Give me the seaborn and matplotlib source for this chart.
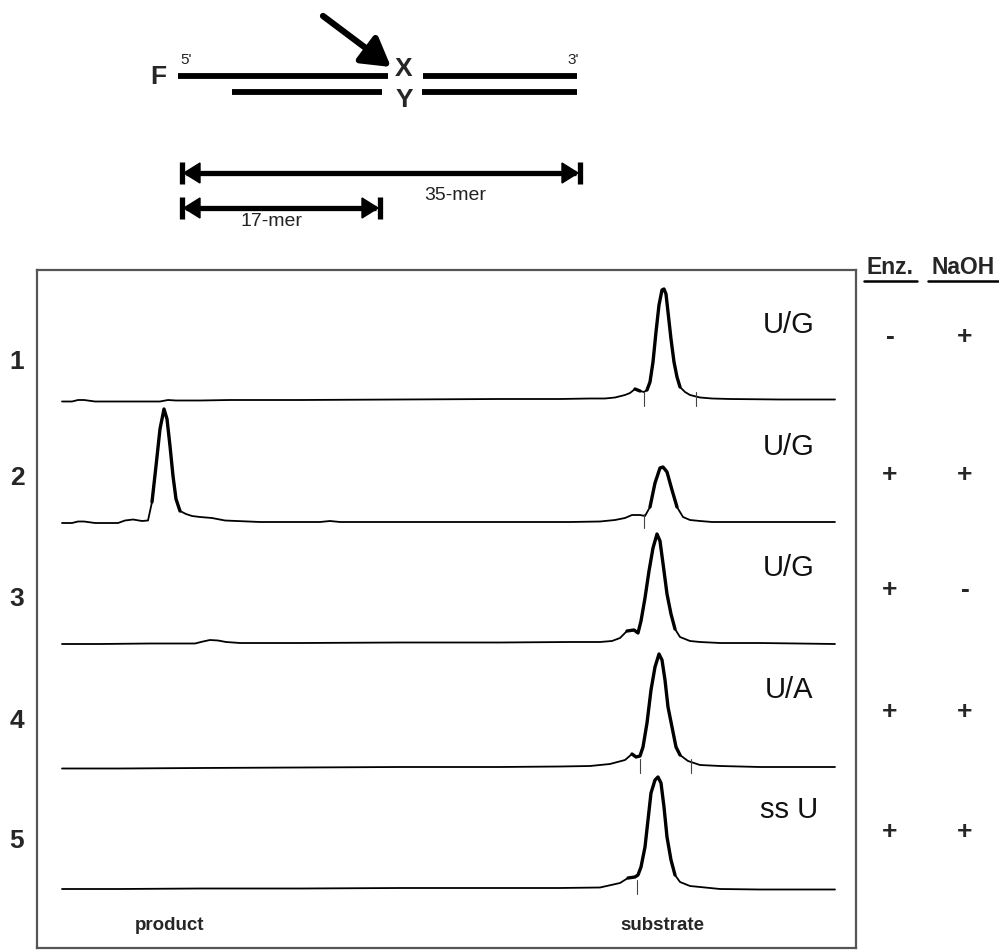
import numpy as np
import pandas as pd
import matplotlib
matplotlib.use("Agg")
import matplotlib.pyplot as plt
import seaborn as sns
from matplotlib.patches import Polygon

# ---------------- data ----------------
lanes = [1, 2, 3, 4, 5]
conditions = ["U/G", "U/G", "U/G", "U/A", "ss U"]
enzyme = ["-", "+", "+", "+", "+"]
naoh = ["+", "+", "-", "+", "+"]

# scan position (migration) and fluorescence signal of each trace
L1_x = [62, 72, 78, 84, 95, 160, 168, 176, 200, 230, 300, 400, 500, 560, 590, 605, 615, 625, 630, 635,
        640, 644, 647, 650, 653, 656, 659, 662, 664, 666, 668, 671, 674, 677, 680, 685, 690, 700, 712, 730,
        780, 835]
L1_s = [-1.5, -1.5, 0, 0, -1.5, -1.5, 0, -0.5, -0.5, 0, 0, 0.5, 1, 1, 1.5, 1.5, 2.5, 5, 7, 11,
        9, 8, 10, 18, 38, 68, 95, 110, 111, 106, 88, 61, 38, 23, 13, 8, 5, 2.5, 1.5, 1,
        0.5, 0.5]

L2_x = [62, 72, 78, 84, 95, 118, 125, 133, 142, 148, 152, 156, 160, 164, 167, 170, 173, 176, 180, 186,
        192, 200, 212, 225, 260, 320, 330, 340, 420, 500, 570, 600, 615, 625, 632, 640, 645, 650, 655, 660,
        663, 667, 672, 677, 683, 690, 700, 712, 760, 835]
L2_s = [-1, -1, 0.5, 0.5, -1, -1, 1.5, 2.5, 1, 1.5, 20, 56, 93, 113, 103, 76, 46, 23, 11, 8,
        6, 5, 4, 1.5, 0, 0, 1, 0, 0, 0, 0, 0.5, 2, 4, 7, 7, 6, 15, 39, 54,
        55, 50, 32, 15, 5, 2, 1, 0, 0, 0]

L3_x = [62, 100, 150, 195, 203, 210, 218, 226, 240, 300, 400, 500, 570, 600, 612, 620, 627, 634, 638, 641,
        645, 649, 653, 657, 660, 664, 667, 671, 675, 680, 690, 700, 720, 760, 835]
L3_s = [-1, -1, -0.5, -0.5, 1.5, 3, 2.5, 1, 0, 0, 0.5, 0.5, 1, 1, 2, 5, 12, 13, 10, 22,
        45, 72, 95, 109, 102, 72, 49, 29, 14, 6, 2, 1, 0, 0, -1]

L4_x = [62, 120, 200, 300, 400, 500, 560, 590, 610, 625, 632, 636, 640, 643, 647, 651, 655, 659, 662, 665,
        668, 672, 676, 680, 688, 700, 720, 760, 835]
L4_s = [-1.5, -1.5, -1, -0.5, 0, 0, 0.5, 1, 3, 7, 13, 10, 11, 20, 44, 77, 100, 113, 107, 87,
        60, 40, 20, 12, 6, 2, 1, 0, 0]

L5_x = [62, 120, 200, 300, 400, 500, 560, 600, 620, 628, 635, 638, 641, 645, 648, 651, 655, 658, 661, 664,
        667, 671, 675, 680, 690, 700, 720, 760, 835]
L5_s = [-1, -1, -0.5, -0.5, 0, 0, 0, 0.5, 5, 10, 11, 13, 21, 41, 68, 95, 108, 111, 105, 81,
        51, 28, 13, 6, 2, 1, -1, -1.5, -1.5]

trace_x = [L1_x, L2_x, L3_x, L4_x, L5_x]
trace_s = [L1_s, L2_s, L3_s, L4_s, L5_s]

# peak-integration tick marks (scan position) per lane
tick_x = [[644, 696], [644], [], [640, 691], [637]]

# ---------------- layout ----------------
W, H = 999, 952
L, R, T, B = 37, 856, 270, 948          # frame of the trace panel (pixels)
lane_base = [400, 522, 643, 767, 888]   # baseline of each lane (pixels)

sns.set_theme(style="white")
plt.rcParams["font.family"] = ["Liberation Sans", "DejaVu Sans"]

fig = plt.figure(figsize=(W / 100, H / 100), dpi=100)
ax = fig.add_axes([L / W, 1 - B / H, (R - L) / W, (B - T) / H])

rows = []
for i, (xs, ss) in enumerate(zip(trace_x, trace_s)):
    seg = 0
    prev = False
    for x, s in zip(xs, ss):
        pk = s >= 9
        if pk and not prev:
            seg += 1
        prev = pk
        rows.append(dict(lane=lanes[i], pos=x, signal=s, y=lane_base[i] - s,
                         peak=pk, seg=lanes[i] * 10 + seg))
df = pd.DataFrame(rows)

sns.lineplot(data=df, x="pos", y="y", units="lane", estimator=None, sort=False,
             color="black", lw=1.3, ax=ax, legend=False)
dpk = df[df.peak]
sns.lineplot(data=dpk, x="pos", y="y", units="seg", estimator=None, sort=False,
             color="black", lw=2.4, ax=ax, legend=False,
             solid_joinstyle="round", solid_capstyle="round")

for i, tx in enumerate(tick_x):
    for x in tx:
        ax.plot([x, x], [lane_base[i] + 6, lane_base[i] - 8], color="#444444", lw=0.8)

ax.set_xlim(L, R)
ax.set_ylim(B, T)
ax.set_xticks([])
ax.set_yticks([])
ax.set_xlabel("")
ax.set_ylabel("")
for sp in ax.spines.values():
    sp.set_color("#555555")
    sp.set_linewidth(1.6)

# ---------------- overlay (pixel coordinates) ----------------
ov = fig.add_axes([0, 0, 1, 1], zorder=5)
ov.set_xlim(0, W)
ov.set_ylim(H, 0)
ov.axis("off")
ov.patch.set_visible(False)

# duplex diagram
for (x0, x1, y) in [(178, 388, 76), (423, 577, 76), (232, 382, 92), (422, 577, 92)]:
    ov.plot([x0, x1], [y, y], color="black", lw=4.2, solid_capstyle="butt")
ov.text(158, 77, "F", fontsize=19, fontweight="bold", ha="center", va="center")
ov.text(186, 60, "5'", fontsize=11, ha="center", va="center", color="#222222")
ov.text(573, 60, "3'", fontsize=11, ha="center", va="center", color="#222222")
ov.text(404, 69, "X", fontsize=19, fontweight="bold", ha="center", va="center")
ov.text(404, 100, "Y", fontsize=19, fontweight="bold", ha="center", va="center")
ov.annotate("", xy=(391, 67), xytext=(323, 16),
            arrowprops=dict(arrowstyle="-|>,head_length=0.85,head_width=0.5", lw=4.5,
                            color="black", mutation_scale=20, shrinkA=0, shrinkB=0))


def dim_arrow(x0, x1, y):
    ov.plot([x0 + 4, x1 - 4], [y, y], color="black", lw=3.8, solid_capstyle="butt")
    for xb in (x0, x1):
        ov.plot([xb, xb], [y - 11, y + 11], color="black", lw=3.8, solid_capstyle="butt")
    ov.add_patch(Polygon([(x0 + 2, y), (x0 + 18, y - 10), (x0 + 18, y + 10)], closed=True,
                         color="black"))
    ov.add_patch(Polygon([(x1 - 2, y), (x1 - 18, y - 10), (x1 - 18, y + 10)], closed=True,
                         color="black"))


dim_arrow(182, 580, 173)
dim_arrow(182, 380, 208)
ov.text(455, 195, "35-mer", fontsize=14, ha="center", va="center", color="#222222")
ov.text(272, 222, "17-mer", fontsize=14, ha="center", va="center", color="#222222")

# lane numbers
lane_label_y = [362, 478, 599, 721, 841]
for lab, y in zip(lanes, lane_label_y):
    ov.text(17, y, str(lab), fontsize=19, fontweight="bold", ha="center", va="center")

# conditions inside the panel
cond_y = [325, 447, 568, 690, 810]
for c, y in zip(conditions, cond_y):
    ov.text(789, y, c, fontsize=21, ha="center", va="center", color="#111111")

# Enz. / NaOH table
ov.text(890, 268, "Enz.", fontsize=16.5, fontweight="bold", ha="center", va="center")
ov.text(963, 268, "NaOH", fontsize=16.5, fontweight="bold", ha="center", va="center")
ov.plot([864, 917], [281, 281], color="black", lw=1.8)
ov.plot([928, 998], [281, 281], color="black", lw=1.8)
sign_y = [337, 475, 590, 712, 832]
for e, n, y in zip(enzyme, naoh, sign_y):
    ov.text(890, y, e, fontsize=19, fontweight="bold", ha="center", va="center")
    ov.text(965, y, n, fontsize=19, fontweight="bold", ha="center", va="center")

ov.text(170, 925, "product", fontsize=13.5, fontweight="bold", ha="center", va="center")
ov.text(662, 925, "substrate", fontsize=13.5, fontweight="bold", ha="center", va="center")

fig.savefig("out.png", dpi=100)
